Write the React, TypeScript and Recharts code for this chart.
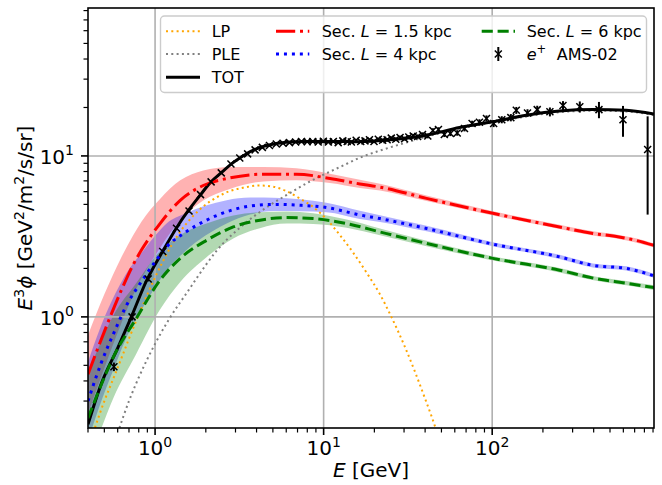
import React from "react";
import {
  ComposedChart,
  Line,
  Area,
  Scatter,
  ErrorBar,
  XAxis,
  YAxis,
  ReferenceLine,
} from "recharts";

const FONT = "DejaVu Sans, sans-serif";

// LP component
const lpE = [0.44, 0.5, 0.55, 0.63, 0.71, 0.8, 0.9, 1.0, 1.1, 1.25, 1.4, 1.6, 1.93, 2.3, 2.78, 3.34, 4.2, 5.0, 6.0, 7.2, 8.7, 10.4, 12.5, 15, 18, 21.6, 25, 30, 35, 40, 44, 48];
const lpV = [0.205, 0.3, 0.385, 0.55, 0.76, 1.03, 1.38, 1.76, 2.16, 2.78, 3.35, 4.0, 4.85, 5.5, 6.05, 6.35, 6.55, 6.45, 6.05, 5.45, 4.8, 4.05, 3.22, 2.5, 1.88, 1.38, 1.02, 0.67, 0.45, 0.31, 0.236, 0.18];

// PLE component
const pleE = [0.6, 0.7, 0.8, 1.0, 1.22, 1.57, 2.0, 2.3, 3.2, 4.6, 6.0, 8.0, 10, 13, 16.4, 21.6, 30, 40, 64, 100, 160, 250, 400, 625, 912];
const pleV = [0.19, 0.3, 0.42, 0.68, 0.98, 1.45, 2.1, 2.55, 3.6, 4.8, 5.7, 6.8, 7.65, 8.7, 9.75, 10.8, 12.0, 13.1, 14.8, 16.1, 17.6, 18.7, 19.1, 18.9, 17.9];

// total
const totE = [0.4, 0.48, 0.6, 0.72, 0.89, 1.12, 1.35, 1.58, 1.85, 2.12, 2.5, 2.85, 3.3, 3.85, 4.6, 6.0, 8.0, 11, 16, 25, 40, 64, 100, 160, 250, 400, 625, 912];
const totV = [0.215, 0.385, 0.64, 0.99, 1.68, 2.6, 3.62, 4.6, 5.7, 6.8, 7.95, 8.95, 9.95, 10.9, 11.6, 12.15, 12.3, 12.3, 12.25, 12.6, 13.4, 15.0, 16.3, 17.9, 19.0, 19.4, 19.2, 18.2];

// secondaries, L = 1.5 kpc
const s15E = [0.4, 0.5, 0.63, 0.74, 0.83, 1.07, 1.41, 1.93, 2.78, 4.4, 6.9, 10.9, 16.4, 21.6, 40.8, 101, 251, 396, 566, 700, 912];
const s15V = [0.44, 0.81, 1.46, 2.1, 2.6, 3.8, 5.3, 6.55, 7.3, 7.7, 7.7, 7.25, 6.7, 6.4, 5.45, 4.4, 3.62, 3.3, 3.14, 3.0, 2.78];
const s15Lo = [0.25, 0.48, 0.91, 1.36, 1.73, 2.68, 3.98, 5.28, 6.24, 6.94, 7.06, 6.78, 6.32, 6.1, 5.24, 4.27, 3.51, 3.2, 3.05, 2.91, 2.7];
const s15Hi = [0.77, 1.38, 2.34, 3.2, 3.9, 5.4, 7.05, 8.12, 8.54, 8.55, 8.39, 7.76, 7.1, 6.72, 5.67, 4.53, 3.73, 3.4, 3.23, 3.09, 2.86];

// secondaries, L = 4 kpc
const s4E = [0.4, 0.48, 0.58, 0.66, 0.85, 1.0, 1.17, 1.51, 1.98, 2.66, 3.66, 5.03, 7.24, 10.4, 16.4, 21.6, 40.8, 101, 251, 396, 625, 912];
const s4V = [0.3, 0.52, 0.83, 1.12, 1.72, 2.2, 2.72, 3.35, 3.95, 4.5, 4.88, 5.0, 4.94, 4.78, 4.3, 4.08, 3.54, 2.83, 2.36, 2.09, 2.0, 1.8];
const s4Lo = [0.171, 0.3, 0.5, 0.7, 1.15, 1.52, 1.94, 2.56, 3.19, 3.81, 4.32, 4.55, 4.53, 4.47, 4.06, 3.89, 3.4, 2.75, 2.29, 2.03, 1.94, 1.75];
const s4Hi = [0.525, 0.89, 1.39, 1.79, 2.58, 3.19, 3.81, 4.39, 4.9, 5.31, 5.51, 5.5, 5.38, 5.11, 4.56, 4.28, 3.68, 2.91, 2.43, 2.15, 2.06, 1.85];

// secondaries, L = 6 kpc
const s6E = [0.4, 0.48, 0.566, 0.77, 1.07, 1.41, 2.02, 2.91, 4.19, 6.03, 8.67, 13.7, 21.6, 40.8, 101, 251, 400, 625, 912];
const s6V = [0.235, 0.38, 0.564, 0.97, 1.69, 2.31, 2.99, 3.62, 3.99, 4.14, 4.08, 3.8, 3.37, 2.86, 2.31, 1.95, 1.74, 1.62, 1.52];
const s6Lo = [0.124, 0.203, 0.313, 0.584, 1.11, 1.65, 2.35, 3.07, 3.56, 3.8, 3.78, 3.58, 3.21, 2.75, 2.24, 1.89, 1.69, 1.57, 1.47];
const s6Hi = [0.447, 0.71, 1.02, 1.61, 2.57, 3.23, 3.8, 4.27, 4.47, 4.51, 4.41, 4.03, 3.54, 2.97, 2.38, 2.01, 1.79, 1.67, 1.57];

// e+ AMS-02
const amsE = [0.57, 0.73, 0.91, 1.11, 1.34, 1.59, 1.86, 2.15, 2.47, 2.82, 3.18, 3.54, 3.92, 4.33, 4.77, 5.24, 5.74, 6.27, 6.82, 7.39, 7.99, 8.62, 9.28, 9.96, 10.67, 11.42, 12.2, 13.0, 13.8, 14.6, 15.6, 16.6, 17.6, 18.7, 19.9, 21.1, 22.4, 23.8, 25.2, 26.8, 28.4, 30.2, 32.0, 34.0, 36.1, 38.6, 41.5, 44.5, 48.0, 52.0, 56.5, 62.0, 68.5, 76.0, 84.0, 92.5, 102, 114, 129, 139, 162, 185, 220, 263, 331, 430, 597, 836];
const amsV = [0.49, 1.0, 1.72, 2.55, 3.55, 4.55, 5.75, 6.9, 7.85, 8.9, 9.7, 10.3, 10.9, 11.3, 11.6, 11.85, 12.0, 12.1, 12.2, 12.3, 12.25, 12.3, 12.2, 12.35, 12.2, 12.3, 12.1, 12.4, 12.3, 12.2, 12.5, 12.3, 12.4, 12.6, 12.3, 12.7, 12.5, 12.6, 12.9, 12.7, 13.0, 12.8, 13.1, 13.3, 13.2, 13.6, 13.3, 14.4, 14.6, 13.6, 13.8, 13.9, 14.8, 15.9, 16.2, 17.1, 15.9, 16.8, 17.3, 19.2, 18.5, 19.4, 18.8, 20.6, 20.2, 19.4, 16.8, 10.97];
const amsErr = [0.03, 0.05, 0.06, 0.07, 0.08, 0.1, 0.1, 0.12, 0.13, 0.14, 0.15, 0.15, 0.16, 0.16, 0.17, 0.17, 0.18, 0.18, 0.19, 0.19, 0.2, 0.2, 0.21, 0.21, 0.22, 0.22, 0.23, 0.23, 0.24, 0.24, 0.25, 0.26, 0.27, 0.28, 0.29, 0.3, 0.31, 0.32, 0.33, 0.34, 0.35, 0.36, 0.37, 0.38, 0.4, 0.42, 0.44, 0.46, 0.48, 0.5, 0.52, 0.55, 0.6, 0.65, 0.7, 0.75, 0.8, 0.85, 0.9, 0.95, 1.0, 1.1, 1.2, 1.3, 1.6, 2.25, 3.65, 6.65];

const xTicks = [0.4, 0.5, 0.6, 0.7, 0.8, 0.9, 1, 2, 3, 4, 5, 6, 7, 8, 9, 10, 20, 30, 40, 50, 60, 70, 80, 90, 100, 200, 300, 400, 500, 600, 700, 800, 900];
const yTicks = [0.3, 0.4, 0.5, 0.6, 0.7, 0.8, 0.9, 1, 2, 3, 4, 5, 6, 7, 8, 9, 10, 20, 30, 40, 50, 60, 70, 80];
const majors = [1, 10, 100];

const rows = (es: number[], vs: number[]) => es.map((E, i) => ({ E, v: vs[i] }));
const band = (es: number[], lo: number[], hi: number[]) =>
  es.map((E, i) => ({ E, band: [lo[i], hi[i]] }));

const lpData = rows(lpE, lpV);
const pleData = rows(pleE, pleV);
const totData = rows(totE, totV);
const s15Data = rows(s15E, s15V);
const s4Data = rows(s4E, s4V);
const s6Data = rows(s6E, s6V);
const s15Band = band(s15E, s15Lo, s15Hi);
const s4Band = band(s4E, s4Lo, s4Hi);
const s6Band = band(s6E, s6Lo, s6Hi);
const amsData = amsE.map((E, i) => ({ E, v: amsV[i], err: amsErr[i] }));

const XTick = (props: any) => {
  const { x, y, payload } = props;
  const major = majors.includes(payload.value);
  return (
    <g>
      <line x1={x} x2={x} y1={y} y2={y + (major ? 7 : 4.5)} stroke="#000" strokeWidth={major ? 1.6 : 1.2} />
      {major && (
        <text x={x} y={y + 27} textAnchor="middle" fontFamily={FONT} fontSize={20} fill="#000">
          10<tspan dy={-8.5} fontSize={14}>{Math.round(Math.log10(payload.value))}</tspan>
        </text>
      )}
    </g>
  );
};

const YTick = (props: any) => {
  const { x, y, payload } = props;
  const major = majors.includes(payload.value);
  return (
    <g>
      <line x1={x - (major ? 7 : 4.5)} x2={x} y1={y} y2={y} stroke="#000" strokeWidth={major ? 1.6 : 1.2} />
      {major && (
        <text x={x - 14} y={y + 8} textAnchor="end" fontFamily={FONT} fontSize={20} fill="#000">
          10<tspan dy={-8.5} fontSize={14}>{Math.round(Math.log10(payload.value))}</tspan>
        </text>
      )}
    </g>
  );
};

const Cross = (props: any) => {
  const { cx, cy } = props;
  if (cx == null || cy == null) return null;
  const s = 3.5;
  return (
    <path
      d={`M${cx - s},${cy - s}L${cx + s},${cy + s}M${cx - s},${cy + s}L${cx + s},${cy - s}`}
      stroke="#000"
      strokeWidth={1.5}
      fill="none"
    />
  );
};

const Overlay = () => (
  <svg width={662} height={485} style={{ position: "absolute", left: 0, top: 0, pointerEvents: "none" }}>
    <rect x={88} y={8} width={566} height={420} fill="none" stroke="#000" strokeWidth={1.6} />
    <g fontFamily={FONT} fontSize={16} fill="#000">
      <rect x={160.5} y={16} width={486} height={76.5} rx={4} fill="#fff" fillOpacity={0.8} stroke="#cccccc" strokeWidth={1.4} />
      <line x1={166} x2={200} y1={31.3} y2={31.3} stroke="#ffa500" strokeWidth={2} strokeDasharray="2 3.3" />
      <text x={211.7} y={37.3}>LP</text>
      <line x1={166} x2={200} y1={54} y2={54} stroke="#808080" strokeWidth={2} strokeDasharray="2 3.3" />
      <text x={211.7} y={60}>PLE</text>
      <line x1={166} x2={200} y1={77.3} y2={77.3} stroke="#000" strokeWidth={3} />
      <text x={211.7} y={83.3}>TOT</text>
      <line x1={276} x2={309.3} y1={31.3} y2={31.3} stroke="#ff0000" strokeWidth={3} strokeDasharray="19.2 4.8 3 4.8" />
      <text x={321.7} y={37.3}>
        Sec. <tspan fontStyle="italic">L</tspan> = 1.5 kpc
      </text>
      <line x1={276} x2={309.3} y1={54} y2={54} stroke="#0000ff" strokeWidth={3} strokeDasharray="3 4.95" />
      <text x={321.7} y={60}>
        Sec. <tspan fontStyle="italic">L</tspan> = 4 kpc
      </text>
      <line x1={481.7} x2={515} y1={31.3} y2={31.3} stroke="#008000" strokeWidth={3} strokeDasharray="11.1 4.8" />
      <text x={526.7} y={37.3}>
        Sec. <tspan fontStyle="italic">L</tspan> = 6 kpc
      </text>
      <line x1={498.3} x2={498.3} y1={47} y2={61} stroke="#000" strokeWidth={2} />
      <Cross cx={498.3} cy={54} />
      <text x={526.7} y={60}>
        <tspan fontStyle="italic">e</tspan>
        <tspan dy={-7} fontSize={11.5}>+</tspan>
      </text>
      <text x={556.7} y={60}>AMS-02</text>
    </g>
    <text x={371} y={477} textAnchor="middle" fontFamily={FONT} fontSize={20} fill="#000">
      <tspan fontStyle="italic">E</tspan> [GeV]
    </text>
    <text
      transform="translate(32,218) rotate(-90)"
      textAnchor="middle"
      fontFamily={FONT}
      fontSize={20}
      fill="#000"
    >
      <tspan fontStyle="italic">E</tspan>
      <tspan dy={-8.5} fontSize={14}>3</tspan>
      <tspan dy={8.5} fontStyle="italic">ϕ</tspan> [GeV<tspan dy={-8.5} fontSize={14}>2</tspan>
      <tspan dy={8.5}>/m</tspan>
      <tspan dy={-8.5} fontSize={14}>2</tspan>
      <tspan dy={8.5}>/s/sr]</tspan>
    </text>
  </svg>
);

export default function App() {
  return (
    <div style={{ position: "absolute", left: 0, top: 0, width: 662, height: 485, background: "#fff" }}>
      <ComposedChart width={662} height={485} margin={{ top: 8, right: 8, bottom: 56, left: 87 }}>
        <XAxis
          dataKey="E"
          type="number"
          scale="log"
          domain={[0.4, 912]}
          allowDataOverflow
          ticks={xTicks}
          interval={0}
          tick={<XTick />}
          tickLine={false}
          axisLine={false}
          tickSize={0}
          tickMargin={0}
          height={1}
        />
        <YAxis
          type="number"
          scale="log"
          domain={[0.204, 83]}
          allowDataOverflow
          ticks={yTicks}
          interval={0}
          tick={<YTick />}
          tickLine={false}
          axisLine={false}
          tickSize={0}
          tickMargin={0}
          width={1}
        />
        <Area data={s15Band} dataKey="band" type="monotone" stroke="none" fill="#ff0000" fillOpacity={0.3} isAnimationActive={false} />
        <Area data={s4Band} dataKey="band" type="monotone" stroke="none" fill="#0000ff" fillOpacity={0.3} isAnimationActive={false} />
        <Area data={s6Band} dataKey="band" type="monotone" stroke="none" fill="#008000" fillOpacity={0.3} isAnimationActive={false} />
        {majors.map((m) => (
          <ReferenceLine key={`gx${m}`} x={m} stroke="#b0b0b0" strokeWidth={1.6} />
        ))}
        {[1, 10].map((m) => (
          <ReferenceLine key={`gy${m}`} y={m} stroke="#b0b0b0" strokeWidth={1.6} />
        ))}
        <Line data={lpData} dataKey="v" type="monotone" stroke="#ffa500" strokeWidth={2} strokeDasharray="2 3.3" dot={false} isAnimationActive={false} />
        <Line data={pleData} dataKey="v" type="monotone" stroke="#808080" strokeWidth={2} strokeDasharray="2 3.3" dot={false} isAnimationActive={false} />
        <Line data={totData} dataKey="v" type="monotone" stroke="#000" strokeWidth={3} dot={false} isAnimationActive={false} />
        <Line data={s15Data} dataKey="v" type="monotone" stroke="#ff0000" strokeWidth={3} strokeDasharray="19.2 4.8 3 4.8" dot={false} isAnimationActive={false} />
        <Line data={s4Data} dataKey="v" type="monotone" stroke="#0000ff" strokeWidth={3} strokeDasharray="3 4.95" dot={false} isAnimationActive={false} />
        <Line data={s6Data} dataKey="v" type="monotone" stroke="#008000" strokeWidth={3} strokeDasharray="11.1 4.8" dot={false} isAnimationActive={false} />
        <Scatter data={amsData} dataKey="v" shape={<Cross />} isAnimationActive={false}>
          <ErrorBar dataKey="err" direction="y" width={0} stroke="#000" strokeWidth={2} />
        </Scatter>
      </ComposedChart>
      <Overlay />
    </div>
  );
}
